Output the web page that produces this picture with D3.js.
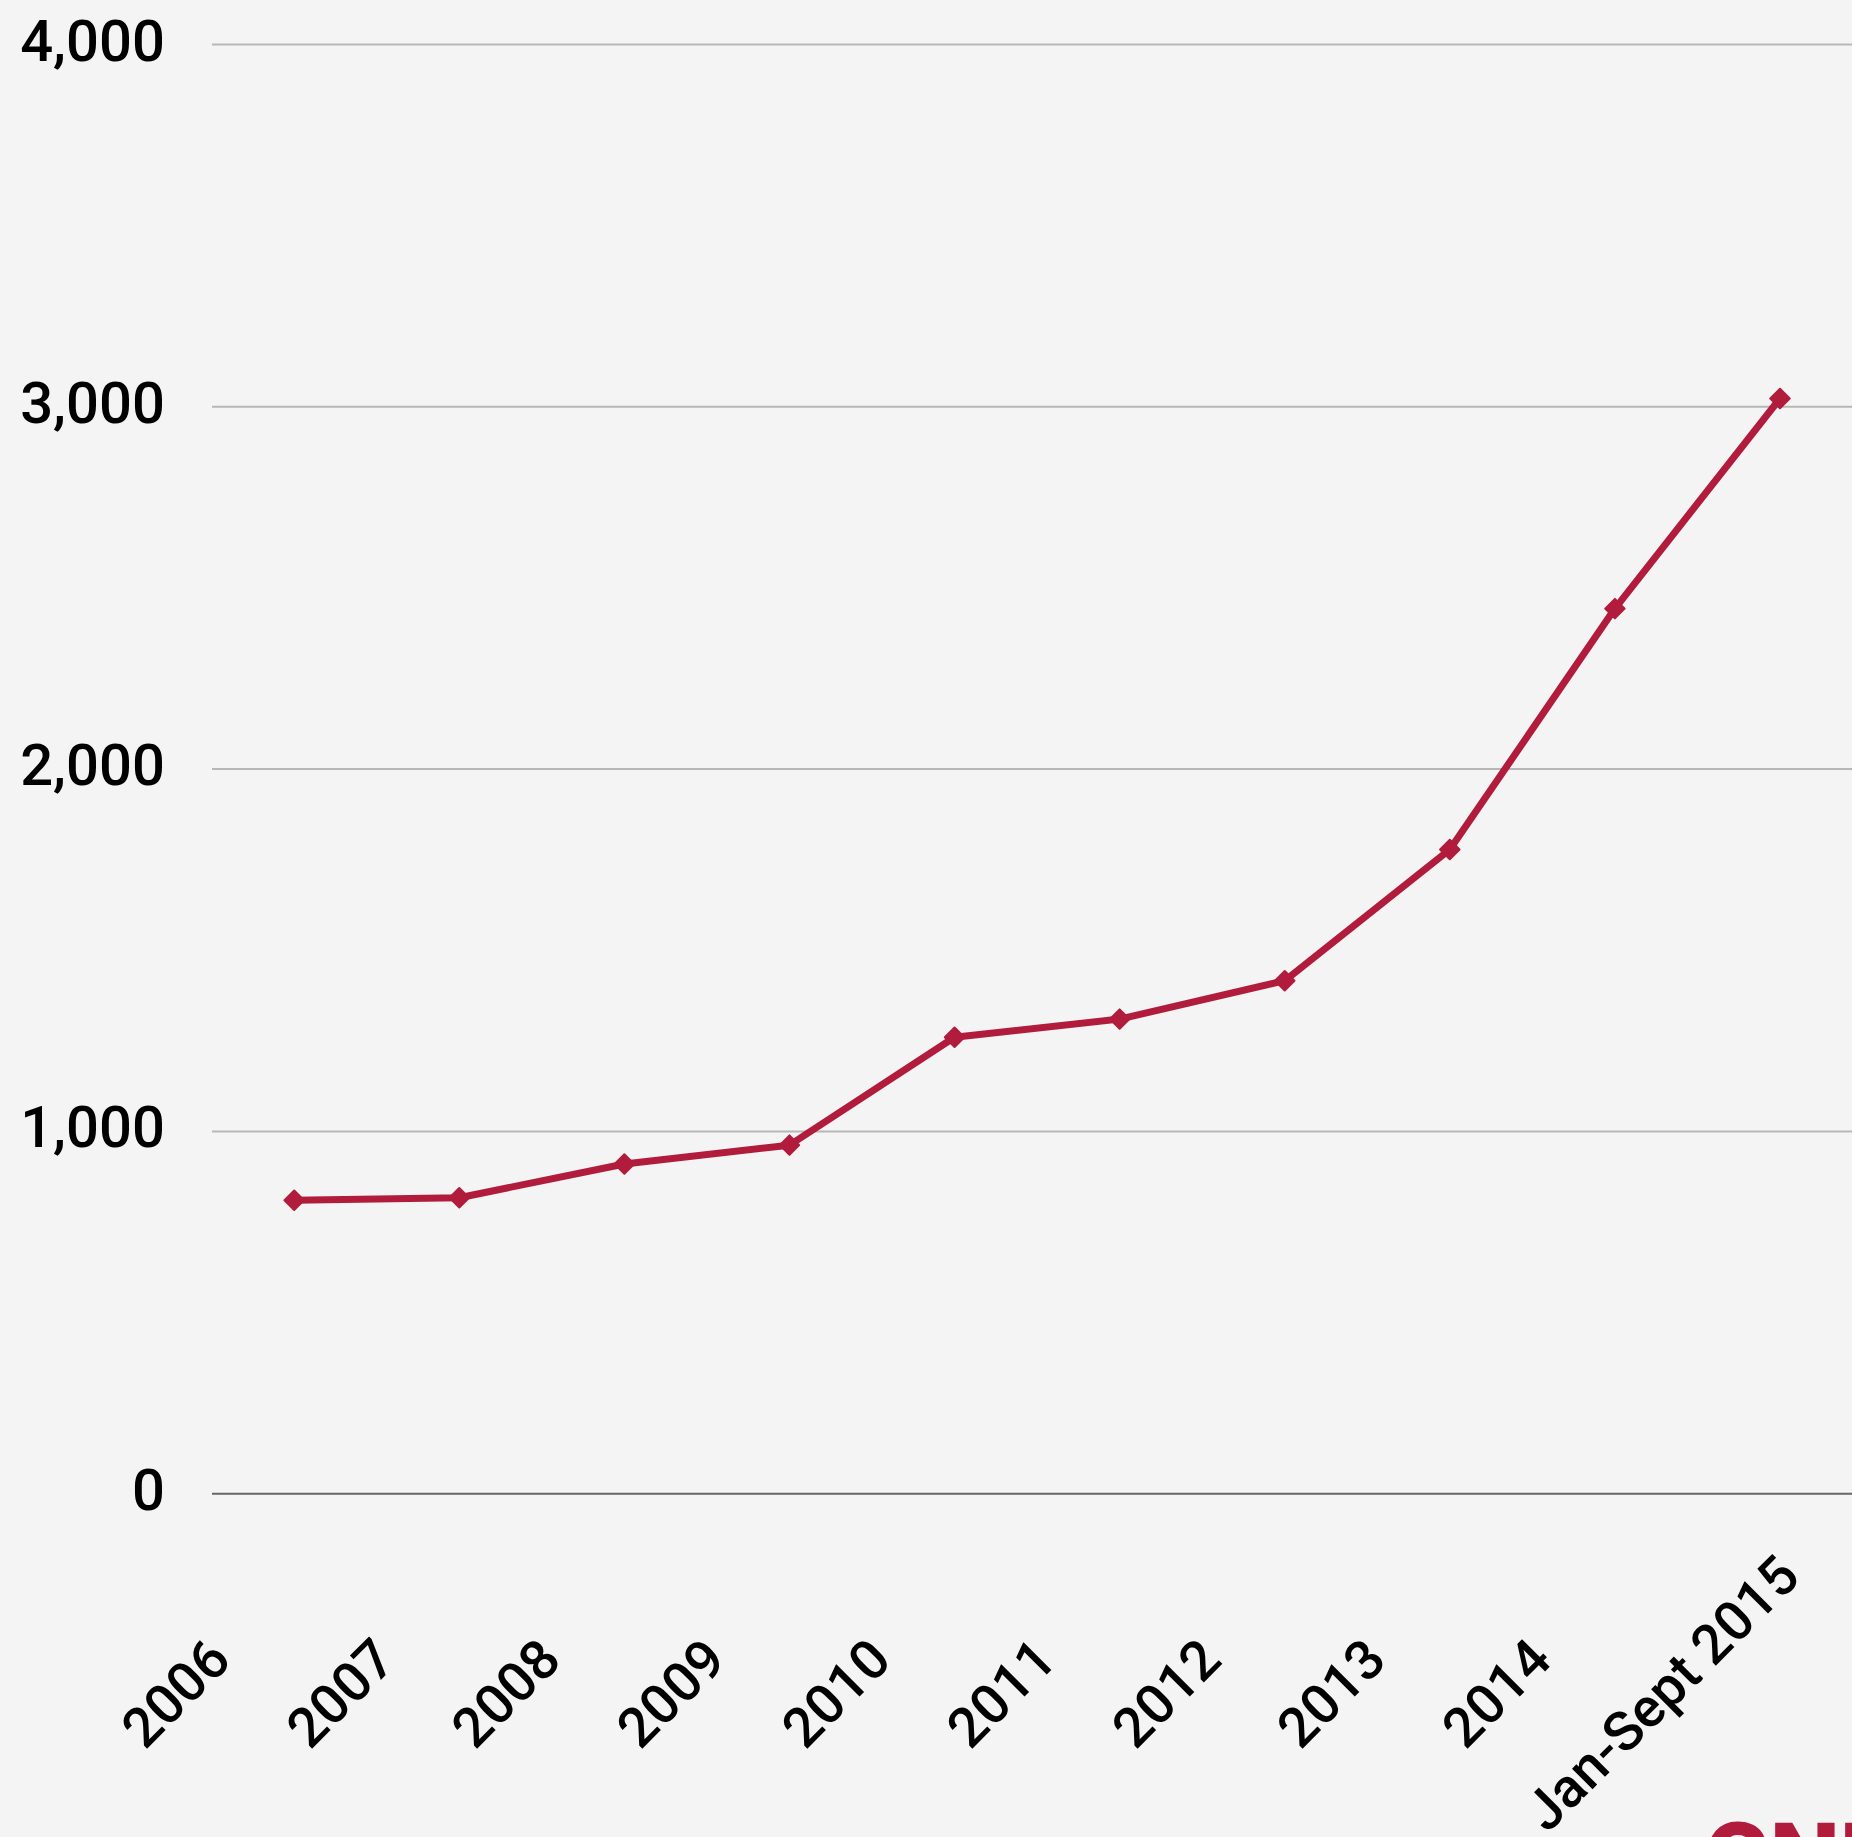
<!DOCTYPE html>
<html>
<head>
<meta charset="utf-8">
<script src="https://cdn.jsdelivr.net/npm/d3@7"></script>
<style>
  html, body { margin: 0; padding: 0; background: #f4f4f4; }
  svg { display: block; }
</style>
</head>
<body>
<svg id="chart" width="1852" height="1837"></svg>
<script>
const categories = ["2006", "2007", "2008", "2009", "2010", "2011", "2012", "2013", "2014", "Jan-Sept 2015"];
const values = [810, 817, 910, 962, 1260, 1310, 1416, 1778, 2443, 3023];
const yTicks = [0, 1000, 2000, 3000, 4000];
const logoText = "CNN";

const W = 1852, H = 1837;
const svg = d3.select("#chart");
svg.append("rect").attr("width", W).attr("height", H).attr("fill", "#f4f4f4");

const x = d3.scalePoint().domain(categories).range([294.2, 1780]);
const y = d3.scaleLinear().domain([0, 4000]).range([1493.7, 44.5]);

// gridlines
svg.append("g").selectAll("line").data(yTicks).join("line")
  .attr("x1", 212).attr("x2", W)
  .attr("y1", d => y(d)).attr("y2", d => y(d))
  .attr("stroke", d => d === 0 ? "#666666" : "#b7b7b7")
  .attr("stroke-width", 2);

// y labels
const fmt = d3.format(",");
svg.append("g").selectAll("text").data(yTicks).join("text")
  .attr("x", 165).attr("y", d => y(d) + 16)
  .attr("text-anchor", "end")
  .attr("font-family", "Roboto, sans-serif")
  .attr("font-weight", 500)
  .attr("font-size", 58)
  .attr("fill", "#000")
  .text(d => fmt(d));

// x labels
svg.append("g").selectAll("text").data(categories).join("text")
  .attr("transform", d => `translate(${x(d) - 118.7},1693) rotate(-45)`)
  .attr("text-anchor", "middle")
  .attr("dy", "0.35em")
  .attr("font-family", "Roboto, sans-serif")
  .attr("font-weight", 500)
  .attr("font-size", 55)
  .attr("fill", "#000")
  .text(d => d);

const color = "#b21c3c";
const line = d3.line().x((d, i) => x(categories[i])).y(d => y(d));
svg.append("path").datum(values)
  .attr("d", line)
  .attr("fill", "none")
  .attr("stroke", color)
  .attr("stroke-width", 7)
  .attr("stroke-linejoin", "round");

const sym = d3.symbol().type(d3.symbolSquare).size(190);
svg.append("g").selectAll("path").data(values).join("path")
  .attr("d", sym)
  .attr("transform", (d, i) => `translate(${x(categories[i])},${y(d)}) rotate(45)`)
  .attr("fill", color)
  .attr("stroke", color)
  .attr("stroke-width", 2)
  .attr("stroke-linejoin", "round");

// partial logo at bottom right
svg.append("text")
  .attr("x", 1704).attr("y", 1823 + 71)
  .attr("font-family", "Roboto, sans-serif")
  .attr("font-weight", 900)
  .attr("font-size", 100)
  .attr("fill", color)
  .text(logoText);
</script>
</body>
</html>
